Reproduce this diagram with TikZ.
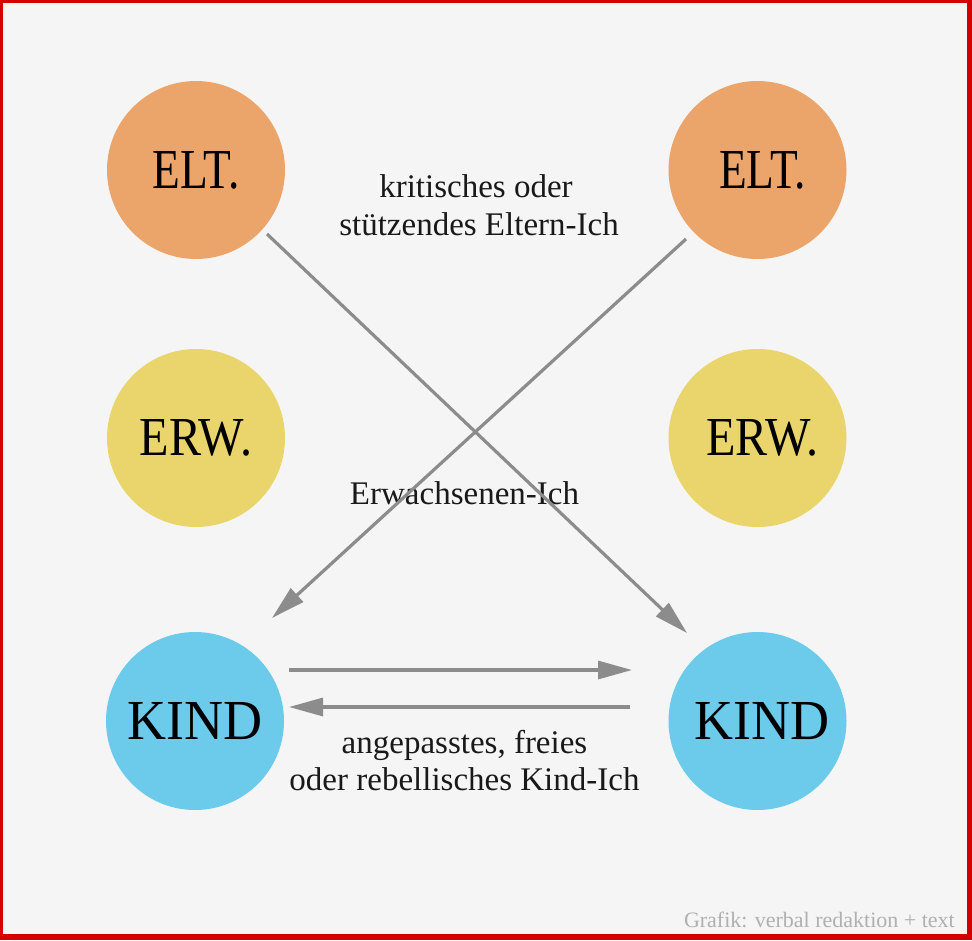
\documentclass[tikz,border=0pt]{standalone}
\usepackage{fontspec}
\setmainfont{Liberation Serif}
\usetikzlibrary{arrows.meta}
\definecolor{bg}{HTML}{F5F5F5}
\definecolor{frame}{HTML}{D40000}
\definecolor{eltcol}{HTML}{EBA56B}
\definecolor{erwcol}{HTML}{E9D56B}
\definecolor{kindcol}{HTML}{6CCAEB}
\definecolor{arrcol}{HTML}{8C8C8C}
\definecolor{creditcol}{HTML}{B0B0B0}
\newcommand{\circtxt}[3]{\resizebox{#1}{#2}{#3}}
\tikzset{
  egocircle/.style={circle, minimum size=178pt, inner sep=0pt, text=black},
  lbl/.style={font=\fontsize{33}{38}\selectfont, anchor=base, inner sep=0pt, text=black!90},
  conn/.style={draw=arrcol, line width=3.2pt, -{Triangle[length=34pt,width=18pt]}}
}
\begin{document}
\begin{tikzpicture}[x=1pt,y=-1pt]
\useasboundingbox (0,0) rectangle (972,940);
\fill[frame] (0,0) rectangle (972,940);
\fill[bg] (3,3) rectangle (967,934);

\node[egocircle, fill=eltcol] (eltL) at (196,170) {\circtxt{87pt}{37pt}{ELT.}};
\node[egocircle, fill=eltcol] (eltR) at (757.5,170) {\hspace*{10pt}\circtxt{87pt}{37pt}{ELT.}};
\node[egocircle, fill=erwcol] (erwL) at (196,438) {\circtxt{112pt}{36pt}{ERW.}};
\node[egocircle, fill=erwcol] (erwR) at (757.5,438) {\hspace*{10pt}\circtxt{112pt}{36pt}{ERW.}};
\node[egocircle, fill=kindcol] (kindL) at (195,721) {\circtxt{135pt}{37pt}{KIND}};
\node[egocircle, fill=kindcol] (kindR) at (757.5,721) {\hspace*{10pt}\circtxt{135pt}{37pt}{KIND}};

\node[lbl] (t1a) at (476,197) {kritisches oder};
\node[lbl] (t1b) at (479,235) {stützendes Eltern-Ich};
\node[lbl] (t2) at (464.5,504) {Erwachsenen-Ich};
\node[lbl] (t3a) at (464.5,753) {angepasstes, freies};
\node[lbl] (t3b) at (464.5,790) {oder rebellisches Kind-Ich};
\node[font=\fontsize{22}{26}\selectfont, text=creditcol, anchor=base east, inner sep=0pt] (credit) at (955,927) {Grafik: verbal redaktion + text};

\coordinate (d1s) at (267,234);
\coordinate (d1e) at (687,633);
\coordinate (d2s) at (686,239);
\coordinate (d2e) at (272,618);
\coordinate (h1s) at (289,670);
\coordinate (h1e) at (632,670);
\coordinate (h2s) at (630,707);
\coordinate (h2e) at (289,707);

\draw[conn] (d1s) -- (d1e);
\draw[conn] (d2s) -- (d2e);
\draw[conn] (h1s) -- (h1e);
\draw[conn] (h2s) -- (h2e);
\end{tikzpicture}
\end{document}
